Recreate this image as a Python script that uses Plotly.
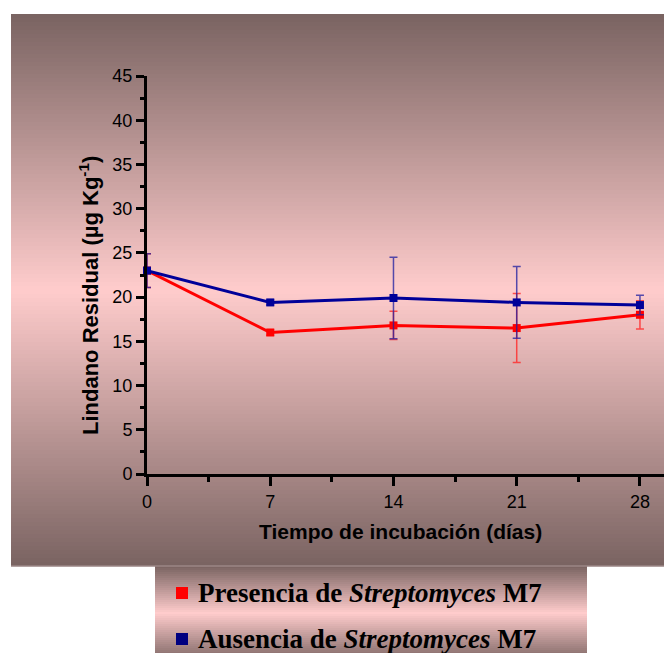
import plotly.graph_objects as go

# ---- data ----
dias = [0, 7, 14, 21, 28]
presencia = [23.0, 16.0, 16.8, 16.5, 18.0]
presencia_err = [1.9, 0.3, 1.6, 3.9, 1.6]
ausencia = [23.0, 19.4, 19.9, 19.4, 19.1]
ausencia_err = [1.9, 0.3, 4.6, 4.05, 1.1]
x_ticks = [0, 7, 14, 21, 28]
y_ticks = [0, 5, 10, 15, 20, 25, 30, 35, 40, 45]
serie_nombres = ["Presencia de <i>Streptomyces</i> M7", "Ausencia de <i>Streptomyces</i> M7"]

OFF = 8  # page body margin
W, H = 672 - OFF, 653 - OFF
L, R, T, B = 147 - OFF, 0, 76 - OFF, 653 - 474
PW, PH = W - L - R, H - T - B

def px(x):
    return (x - OFF - L) / PW

def py(y):
    return (H - B - (y - OFF)) / PH

DARK = (121, 99, 97)
PINK = (255, 204, 204)

def mix(t):
    return "rgb(%d,%d,%d)" % tuple(round(DARK[k] + (PINK[k] - DARK[k]) * t) for k in range(3))

shapes = []

def gradient_box(x0, x1, y0, y1, ymid, n):
    step = (y1 - y0) / n
    for i in range(n):
        a = y0 + i * step
        b = a + step
        c = (a + b) / 2
        if c <= ymid:
            t = (c - y0) / (ymid - y0)
        else:
            t = (y1 - c) / (y1 - ymid)
        shapes.append(dict(type="rect", xref="paper", yref="paper", layer="below",
                           x0=px(x0), x1=px(x1), y0=py(a), y1=py(b + 0.6),
                           fillcolor=mix(t), line=dict(width=0)))

gradient_box(11, 680, 14, 566, 290, 138)
gradient_box(155, 587, 566, 662, 613, 48)
shapes.append(dict(type="line", xref="paper", yref="paper", layer="below",
                   x0=px(11), x1=px(680), y0=py(566), y1=py(566),
                   line=dict(color="rgb(170,150,150)", width=1)))

leg_colors = ["#ff0000", "#000080"]
leg_y = [593, 639]
for c, yy in zip(leg_colors, leg_y):
    shapes.append(dict(type="rect", xref="paper", yref="paper",
                       x0=px(176), x1=px(188), y0=py(yy - 6), y1=py(yy + 6),
                       fillcolor=c, line=dict(width=0)))

fig = go.Figure()
fig.add_trace(go.Scatter(
    x=dias, y=presencia, mode="lines+markers", cliponaxis=False,
    line=dict(color="#ff0000", width=3),
    marker=dict(symbol="square", size=8, color="#ff0000"),
    error_y=dict(type="data", array=presencia_err, visible=True,
                 color="rgba(255,40,40,0.8)", thickness=1.5, width=4),
    showlegend=False))
fig.add_trace(go.Scatter(
    x=dias, y=ausencia, mode="lines+markers", cliponaxis=False,
    line=dict(color="#000099", width=3),
    marker=dict(symbol="square", size=8, color="#000099"),
    error_y=dict(type="data", array=ausencia_err, visible=True,
                 color="rgba(30,30,160,0.75)", thickness=1.5, width=4),
    showlegend=False))

annotations = [
    dict(text="<b>Lindano Residual (µg Kg<sup>-1</sup>)</b>", xref="paper", yref="paper",
         x=px(89), y=py(296), xanchor="center", yanchor="middle", textangle=-90, showarrow=False,
         font=dict(family="Liberation Sans, Arial", size=22, color="black")),
    dict(text="<b>Tiempo de incubación (días)</b>", xref="paper", yref="paper",
         x=px(400), y=py(531), xanchor="center", yanchor="middle", showarrow=False,
         font=dict(family="Liberation Sans, Arial", size=21, color="black")),
]
for name, yy in zip(serie_nombres, leg_y):
    annotations.append(dict(text="<b>" + name + "</b>", xref="paper", yref="paper",
                            x=px(196), y=py(yy), xanchor="left", yanchor="middle",
                            showarrow=False,
                            font=dict(family="Liberation Serif, Times New Roman", size=27, color="black")))

fig.update_layout(
    width=W, height=H,
    margin=dict(l=L, r=R, t=T, b=B),
    paper_bgcolor="white", plot_bgcolor="rgba(0,0,0,0)",
    shapes=shapes, annotations=annotations,
    xaxis=dict(range=[0, 29.82], tickvals=x_ticks, ticktext=[str(v) for v in x_ticks],
               showgrid=False, zeroline=False, showline=True, linecolor="black", linewidth=3,
               ticks="outside", ticklen=9, tickwidth=3, tickcolor="black",
               minor=dict(tickvals=[3.5, 10.5, 17.5, 24.5], ticks="outside", ticklen=5, tickwidth=3, tickcolor="black"),
               tickfont=dict(family="Liberation Sans, Arial", size=18, color="black")),
    yaxis=dict(range=[0, 45], tickvals=y_ticks,
               showgrid=False, zeroline=False, showline=True, linecolor="black", linewidth=3,
               ticks="outside", ticklen=8, tickwidth=3, tickcolor="black",
               minor=dict(dtick=2.5, tick0=0, ticks="outside", ticklen=4, tickwidth=3, tickcolor="black"),
               tickfont=dict(family="Liberation Sans, Arial", size=18, color="black")),
)

fig.write_html("out.html")
